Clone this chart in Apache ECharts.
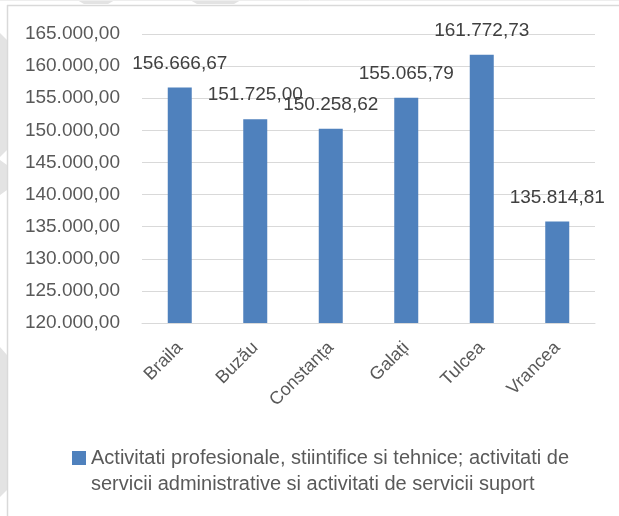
<!DOCTYPE html>
<html>
<head>
<meta charset="utf-8">
<script src="https://cdn.jsdelivr.net/npm/echarts@6/dist/echarts.min.js"></script>
<style>html,body{margin:0;padding:0;background:#fff}#c{width:619px;height:516px}</style>
</head>
<body>
<div id="c"></div>
<script>
const categories = ['Braila', 'Buzău', 'Constanța', 'Galați', 'Tulcea', 'Vrancea'];
const values = [156666.67, 151725.00, 150258.62, 155065.79, 161772.73, 135814.81];
const seriesName = 'Activitati profesionale, stiintifice si tehnice; activitati de servicii administrative si activitati de servicii suport';
const legendLines = ['Activitati profesionale, stiintifice si tehnice; activitati de', 'servicii administrative si activitati de servicii suport'];
const yMin = 120000, yMax = 165000, yStep = 5000;

function fmt(v) {
  const s = v.toFixed(2);
  const parts = s.split('.');
  const intPart = parts[0].replace(/\B(?=(\d{3})+(?!\d))/g, '.');
  return intPart + ',' + parts[1];
}

const FONT = 'Liberation Sans';
const chart = echarts.init(document.getElementById('c'), null, {renderer: 'canvas'});
chart.setOption({
  backgroundColor: '#ffffff',
  animation: false,
  textStyle: {fontFamily: FONT},
  grid: {left: 142, right: 24, top: 34, bottom: 193, containLabel: false},
  xAxis: {
    type: 'category',
    data: categories,
    axisLine: {show: true, lineStyle: {color: '#d9d9d9', width: 1}},
    axisTick: {show: false},
    axisLabel: {rotate: 45, margin: 22, fontSize: 18, color: '#595959', fontFamily: FONT, interval: 0}
  },
  yAxis: {
    type: 'value',
    min: yMin, max: yMax, interval: yStep,
    axisLine: {show: false},
    axisTick: {show: false},
    splitLine: {lineStyle: {color: '#d9d9d9', width: 1}},
    axisLabel: {fontSize: 19, color: '#595959', margin: 22, fontFamily: FONT, formatter: v => fmt(v)}
  },
  legend: {
    show: true,
    left: 72, top: 419, padding: 0,
    itemWidth: 14, itemHeight: 14, itemGap: 10,
    icon: 'rect',
    data: [seriesName],
    formatter: () => '\n' + legendLines.join('\n'),
    textStyle: {fontSize: 20, color: '#595959', lineHeight: 26, fontFamily: FONT}
  },
  graphic: [
    {type: 'polygon', silent: true, shape: {points: [[0,33],[7,40],[7,150],[0,157]]}, style: {fill: '#e3e3e3'}},
    {type: 'polygon', silent: true, shape: {points: [[0,160],[7,165],[7,190],[0,195]]}, style: {fill: '#e3e3e3'}},
    {type: 'polygon', silent: true, shape: {points: [[0,347],[7,355],[7,490],[0,497]]}, style: {fill: '#e3e3e3'}},
    {type: 'polygon', silent: true, shape: {points: [[77,0],[115,0],[108,4],[84,4]]}, style: {fill: '#e3e3e3'}},
    {type: 'polygon', silent: true, shape: {points: [[190,0],[241,0],[234,4],[197,4]]}, style: {fill: '#e3e3e3'}},
    {type: 'line', silent: true, shape: {x1: 0, y1: 0.5, x2: 619, y2: 0.5}, style: {stroke: '#eeeeee', lineWidth: 1}},
    {type: 'line', silent: true, shape: {x1: 7, y1: 5.5, x2: 619, y2: 5.5}, style: {stroke: '#d9d9d9', lineWidth: 1.5}},
    {type: 'line', silent: true, shape: {x1: 7.5, y1: 5, x2: 7.5, y2: 516}, style: {stroke: '#d9d9d9', lineWidth: 1.5}}
  ],
  series: [{
    name: seriesName,
    type: 'bar',
    data: values,
    barWidth: 24,
    itemStyle: {color: '#4f81bd'},
    label: {
      show: true, position: 'top', distance: 14,
      fontSize: 19, color: '#404040', fontFamily: FONT, lineHeight: 20,
      formatter: p => fmt(p.value)
    }
  }]
});
</script>
</body>
</html>
